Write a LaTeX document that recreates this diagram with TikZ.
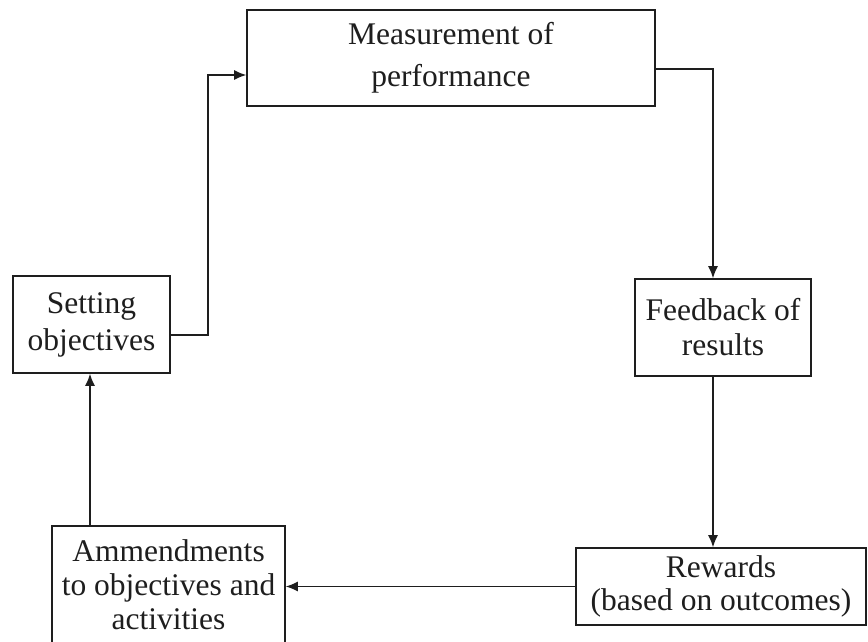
\documentclass[tikz,border=0pt]{standalone}
\usepackage{fontspec}
\setmainfont{Liberation Serif}
\usetikzlibrary{arrows.meta}
\definecolor{ink}{RGB}{30,30,30}
\begin{document}
\begin{tikzpicture}[x=1pt,y=-1pt,
  box/.style={draw=ink, text=ink, fill=white, line width=1.6pt, inner sep=0pt, align=center},
  arr/.style={draw=ink, line width=1.3pt, -{Latex[length=12pt,width=10pt]}}]
\useasboundingbox (0,0) rectangle (868,641);
\clip (0,0) rectangle (868,641);
\fill[white] (0,0) rectangle (868,641);
\node[box, minimum width=408pt, minimum height=96pt, font=\fontsize{31.5}{42}\selectfont] (meas) at (451,58) {Measurement of\\performance};
\node[box, minimum width=157pt, minimum height=97pt, font=\fontsize{31.5}{37}\selectfont] (setting) at (91.5,324.5) {Setting\\objectives};
\node[box, minimum width=176pt, minimum height=97pt, font=\fontsize{31.5}{35}\selectfont] (feedback) at (723,327.5) {Feedback of\\results};
\node[box, minimum width=233pt, minimum height=118pt, font=\fontsize{31.5}{34}\selectfont] (amend) at (168.5,585) {Ammendments\\to objectives and\\activities};
\node[box, minimum width=290pt, minimum height=77pt, font=\fontsize{31.5}{33}\selectfont] (rewards) at (721,586.5) {Rewards\\(based on outcomes)};
\coordinate (c1) at (208,335);
\draw[arr] ([yshift=-10.5pt]setting.east) -- (c1) |- ([yshift=-17pt]meas.west);
\draw[arr] ([yshift=-11pt]meas.east) -| ([xshift=-10pt]feedback.north);
\draw[arr] ([xshift=-10pt]feedback.south) -- ([xshift=-10pt]feedback.south |- rewards.north);
\draw[arr] (rewards.west) -- (rewards.west -| amend.east);
\draw[arr] ([xshift=-78.5pt]amend.north) -- ([xshift=-78.5pt]amend.north |- setting.south);
\end{tikzpicture}
\end{document}
